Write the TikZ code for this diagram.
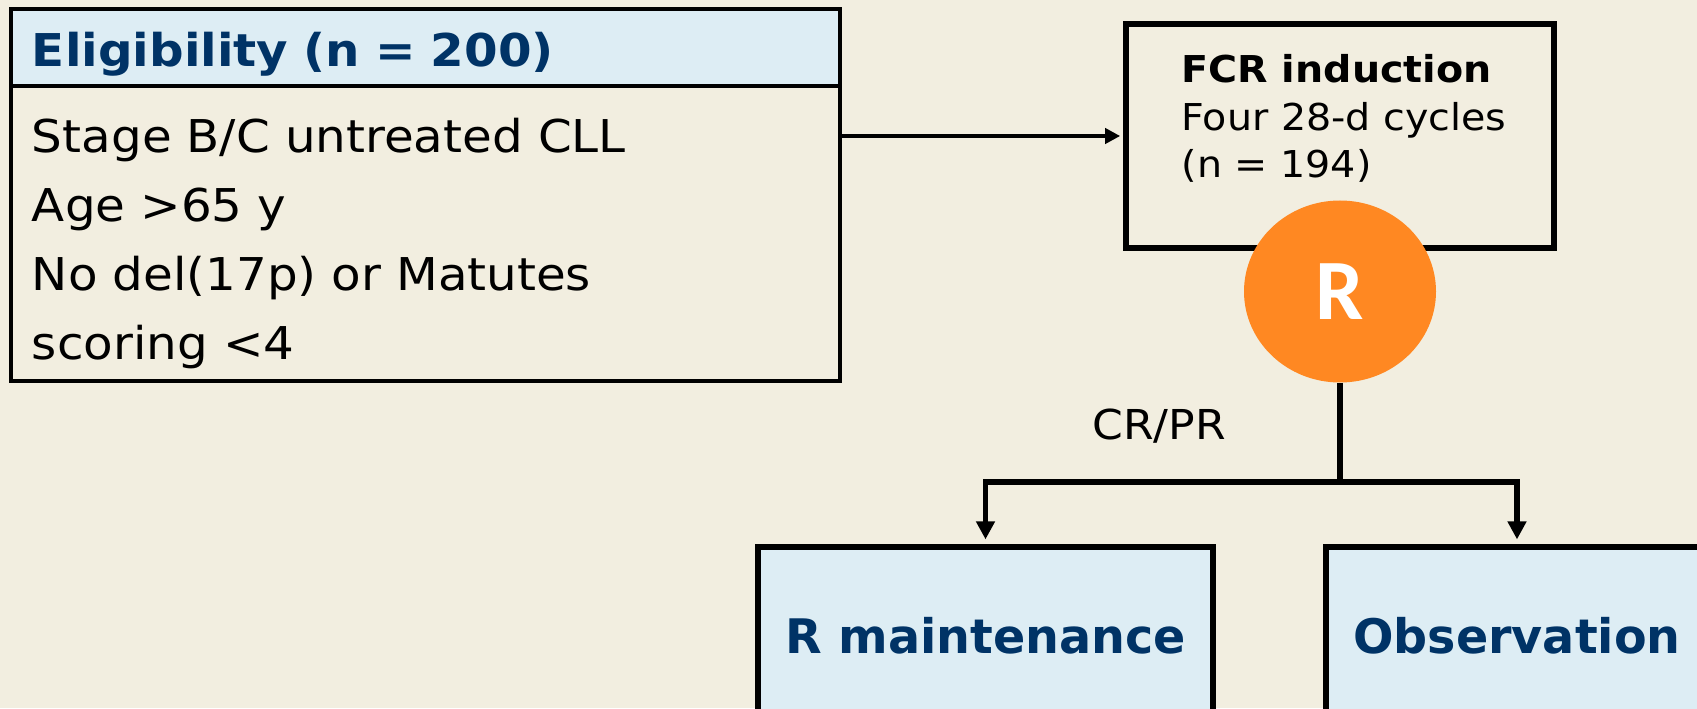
\documentclass[tikz,border=0pt]{standalone}
\usepackage{fontspec}
\setmainfont{DejaVu Sans}[FakeStretch=1.07]
\newfontfamily\armfont{DejaVu Sans}
\newfontfamily\rfont{Carlito}
\usetikzlibrary{arrows.meta,positioning,shapes.geometric}

\definecolor{slidebg}{RGB}{242,238,224}
\definecolor{headblue}{RGB}{221,237,244}
\definecolor{navy}{RGB}{0,51,102}
\definecolor{randorange}{RGB}{255,136,34}

\begin{document}
\begin{tikzpicture}[
  x=0.5pt, y=0.5pt,
  >={Triangle[length=9pt,width=9pt]},
  head/.style={draw, line width=1.7pt, fill=headblue, text=navy, outer sep=0pt,
    font=\fontsize{22.6}{27}\selectfont\bfseries, align=left, text width=393.5pt,
    inner xsep=10.5pt, inner ysep=0pt, text height=29pt, text depth=9.5pt},
  criteria/.style={draw, line width=1.7pt, fill=slidebg, outer sep=0pt,
    font=\fontsize{22.6}{34.5}\selectfont, align=left, text width=393.5pt,
    inner xsep=10.5pt, inner ysep=0pt, text height=33.5pt, text depth=114pt},
  trialbox/.style={draw, line width=2.8pt, minimum width=214pt, minimum height=112pt},
  fcrtext/.style={font=\fontsize{18.5}{23.75}\selectfont, align=left, inner sep=0pt},
  randcirc/.style={ellipse, fill=randorange, text=white, inner sep=0pt,
    minimum width=96pt, minimum height=91pt, font=\rfont\bfseries\fontsize{43}{43}\selectfont},
  armbox/.style={draw, line width=2.6pt, fill=headblue, text=navy, minimum width=227.5pt,
    inner ysep=0pt, text height=53pt, text depth=35pt,
    font=\armfont\fontsize{23.8}{28}\selectfont\bfseries},
  note/.style={font=\fontsize{20.6}{24}\selectfont, inner sep=0pt},
  conn/.style={line width=2.8pt},
  arr/.style={->, line width=2.8pt, shorten >=2.5pt}
]
\path[use as bounding box, fill=slidebg] (0,0) rectangle (1697,708);

\node[head] (eligtitle) at (425.5,660.5) {Eligibility (n = 200)};
\node[criteria, below=0pt of eligtitle] (eligbody) {Stage B/C untreated CLL\\Age >65 y\\No del(17p) or Matutes\\scoring <4};

\node[trialbox] (fcr) at (1340,572) {};
\node[fcrtext, below right=16.5pt and 29pt of fcr.north west] (fcrtxt) {\textbf{FCR induction}\\Four 28-d cycles\\(n = 194)};
\node[randcirc] (rand) at (1340,416.5) {R};

\node[note, anchor=base] (crpr) at (1159,269) {CR/PR};
\coordinate (split) at (1340,226);

\node[armbox] (rmaint) at (985.5,73) {R maintenance};
\node[armbox, minimum width=191pt] (obs) at (1517,73) {Observation};

\draw[arr, line width=2pt, shorten >=1.5pt, >={Triangle[length=7.5pt,width=7.5pt]}] (eligbody.east |- fcr.west) -- (fcr.west);
\draw[conn] (rand.south) -- (split);
\draw[arr] (split) -| (rmaint.north);
\draw[arr] (split) -| (obs.north);
\end{tikzpicture}
\end{document}
